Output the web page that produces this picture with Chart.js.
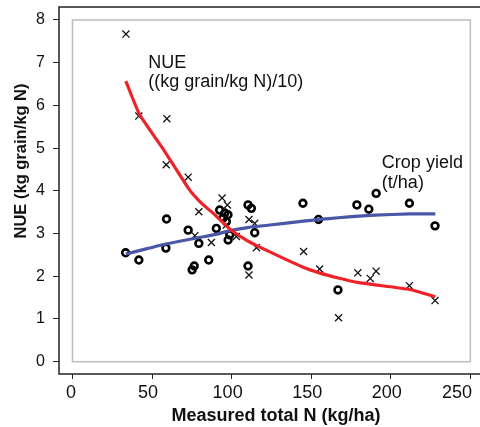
<!DOCTYPE html>
<html>
<head>
<meta charset="utf-8">
<script src="https://cdn.jsdelivr.net/npm/chart.js@4.4.1/dist/chart.umd.min.js"></script>
<style>
  html, body { margin: 0; padding: 0; background: #fff; overflow: hidden; }
  #wrap { width: 490px; height: 427px; }
</style>
</head>
<body>
<div id="wrap"><canvas id="nueChart" width="490" height="427"></canvas></div>
<script>
// Measured total N (kg/ha) against NUE (x10) and crop yield (t/ha)
const nueN     = [33.6, 41.7, 59.3, 58.9, 72.7, 79.4, 94.0, 97.3, 110.9, 114.5, 87.3, 76.9, 115.6, 110.9, 96.7, 103.0, 145.2, 155.3, 179.3, 187.1, 190.8, 167.2, 211.7, 227.8];
const nueVals  = [7.67, 5.75, 5.69, 4.61, 4.32, 3.51, 3.83, 3.67, 3.33, 3.24, 2.79, 2.95, 2.67, 2.03, 3.20, 2.93, 2.58, 2.17, 2.08, 1.95, 2.12, 1.03, 1.78, 1.43];

const yieldN    = [33.4, 41.7, 59.1, 58.7, 72.7, 75.2, 76.5, 79.4, 85.6, 90.4, 92.5, 95.7, 97.7, 94.6, 96.7, 97.8, 98.8, 110.3, 112.4, 114.5, 110.3, 144.8, 154.6, 178.7, 186.2, 190.8, 166.8, 211.7, 227.8];
const yieldVals = [2.55, 2.38, 3.34, 2.66, 3.08, 2.15, 2.24, 2.77, 2.38, 3.12, 3.55, 3.48, 3.44, 3.36, 3.28, 2.85, 2.97, 3.67, 3.59, 3.02, 2.24, 3.71, 3.33, 3.67, 3.57, 3.94, 1.68, 3.71, 3.18];

// smoothed trend lines
const fitN        = [33.5, 42, 58, 73, 80, 90, 99, 110, 124, 145, 155, 167, 180, 190, 212, 228];
const nueFit      = [6.57, 5.80, 4.92, 4.05, 3.75, 3.42, 3.10, 2.83, 2.57, 2.21, 2.08, 1.96, 1.85, 1.80, 1.69, 1.52];
const yieldFit    = [2.52, 2.60, 2.75, 2.86, 2.91, 2.98, 3.07, 3.14, 3.20, 3.29, 3.33, 3.37, 3.41, 3.43, 3.46, 3.46];

const xTicks = [0, 50, 100, 150, 200, 250];
const yTicks = [0, 1, 2, 3, 4, 5, 6, 7, 8];

const FONT = '"Liberation Sans", Arial, Helvetica, sans-serif';

function toPoints(xs, ys) {
  return xs.map((x, i) => ({ x, y: ys[i] }));
}

// frame, inner plot box, x tick labels, axis titles and series labels
const decorations = {
  id: 'decorations',
  beforeDatasetsDraw(chart) {
    const { ctx, chartArea: a, scales: { x, y } } = chart;
    ctx.save();
    ctx.strokeStyle = '#222';
    ctx.lineWidth = 1.5;
    ctx.strokeRect(a.left, a.top, a.right - a.left, a.bottom - a.top);
    ctx.strokeStyle = '#bdbdbd';
    ctx.lineWidth = 1.5;
    const x0 = x.getPixelForValue(0), x1 = x.getPixelForValue(250);
    const y0 = y.getPixelForValue(0), y1 = y.getPixelForValue(8);
    ctx.strokeRect(x0, y1, x1 - x0, y0 - y1);
    ctx.restore();
  },
  afterDraw(chart) {
    const { ctx, chartArea: a, scales: { x, y } } = chart;
    ctx.save();
    ctx.fillStyle = '#111';
    ctx.textBaseline = 'alphabetic';

    // x tick labels, kept inside the visible width
    ctx.font = '18px ' + FONT;
    ctx.textAlign = 'center';
    xTicks.forEach(v => {
      const label = String(v);
      const w = ctx.measureText(label).width;
      let cx = x.getPixelForValue(v) - (v === 0 ? 1.5 : 4);
      cx = Math.min(cx, 472 - w / 2);
      ctx.fillText(label, cx, a.bottom + 24);
    });

    // axis titles
    ctx.font = 'bold 18px ' + FONT;
    ctx.fillText('Measured total N (kg/ha)', 276, 421);

    ctx.save();
    ctx.translate(26, 161);
    ctx.rotate(-Math.PI / 2);
    ctx.font = 'bold 16.5px ' + FONT;
    ctx.fillText('NUE (kg grain/kg N)', 0, 0);
    ctx.restore();

    // series labels
    ctx.font = '18px ' + FONT;
    ctx.textAlign = 'left';
    ctx.fillText('NUE', x.getPixelForValue(47.6), y.getPixelForValue(6.88));
    ctx.fillText('((kg grain/kg N)/10)', x.getPixelForValue(47.6), y.getPixelForValue(6.42));
    ctx.fillText('Crop yield', x.getPixelForValue(194.4), y.getPixelForValue(4.53));
    ctx.fillText('(t/ha)', x.getPixelForValue(194.4), y.getPixelForValue(4.07));
    ctx.restore();
  }
};

new Chart(document.getElementById('nueChart'), {
  type: 'scatter',
  data: {
    datasets: [
      {
        label: 'NUE trend',
        data: toPoints(fitN, nueFit),
        showLine: true,
        borderColor: '#ee2227',
        borderWidth: 3.2,
        pointRadius: 0,
        tension: 0.15,
        order: 1
      },
      {
        label: 'Yield trend',
        data: toPoints(fitN, yieldFit),
        showLine: true,
        borderColor: '#4a57a6',
        borderWidth: 3.2,
        pointRadius: 0,
        tension: 0.15,
        order: 2
      },
      {
        label: 'NUE',
        data: toPoints(nueN, nueVals),
        pointStyle: 'crossRot',
        pointRadius: 5,
        borderColor: '#111',
        borderWidth: 1.3,
        order: 3
      },
      {
        label: 'Crop yield',
        data: toPoints(yieldN, yieldVals),
        pointStyle: 'circle',
        pointRadius: 3.4,
        borderColor: '#000',
        backgroundColor: 'rgba(0,0,0,0)',
        borderWidth: 2.6,
        order: 4
      }
    ]
  },
  options: {
    responsive: false,
    animation: false,
    devicePixelRatio: 1,
    layout: { padding: { top: 7, right: 6, bottom: 0, left: 0 } },
    plugins: {
      legend: { display: false },
      tooltip: { enabled: false }
    },
    scales: {
      x: {
        type: 'linear',
        min: -8.47,
        max: 258.2,
        afterBuildTicks: s => { s.ticks = xTicks.map(v => ({ value: v })); },
        afterFit: s => { s.height = 53; s.paddingLeft = 0; s.paddingRight = 0; },
        grid: { drawOnChartArea: false, drawTicks: true, tickLength: 5, color: '#222' },
        border: { display: false },
        ticks: { display: false }
      },
      y: {
        type: 'linear',
        min: -0.288,
        max: 8.304,
        afterBuildTicks: s => { s.ticks = yTicks.map(v => ({ value: v })); },
        afterFit: s => { s.width = 59; s.paddingTop = 0; s.paddingBottom = 0; },
        grid: { drawOnChartArea: false, drawTicks: true, tickLength: 6, color: '#222' },
        border: { display: false },
        ticks: { color: '#111', font: { family: FONT, size: 16 }, padding: 8 }
      }
    }
  },
  plugins: [decorations]
});
</script>
</body>
</html>
